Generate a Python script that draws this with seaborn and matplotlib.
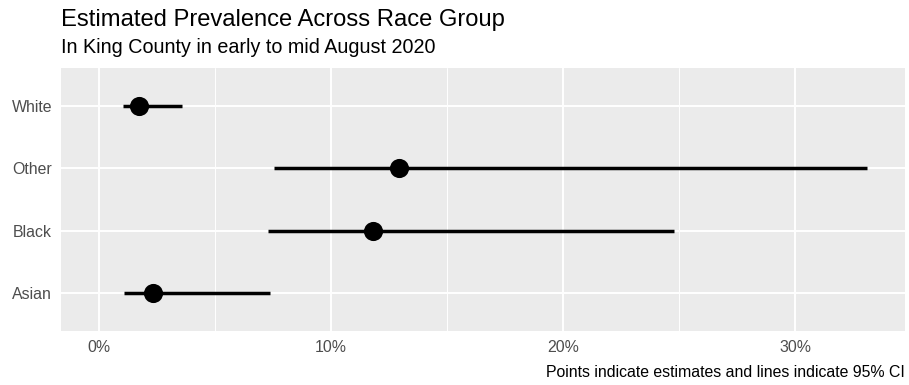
import matplotlib
matplotlib.use("Agg")
import matplotlib.pyplot as plt
import seaborn as sns
import pandas as pd
from matplotlib.ticker import PercentFormatter, MultipleLocator

# Data (fractions)
groups = ["Asian", "Black", "Other", "White"]
estimate = [0.0235, 0.118, 0.1295, 0.0175]
ci_low = [0.0108, 0.0728, 0.0755, 0.0103]
ci_high = [0.0739, 0.2476, 0.3309, 0.0359]

title = "Estimated Prevalence Across Race Group"
subtitle = "In King County in early to mid August 2020"
caption = "Points indicate estimates and lines indicate 95% CI"

df = pd.DataFrame({"group": groups, "estimate": estimate, "lo": ci_low, "hi": ci_high})

sns.set_theme(style="darkgrid")
plt.rcParams["font.family"] = ["Liberation Sans", "DejaVu Sans"]

W, H = 909, 385
fig = plt.figure(figsize=(W / 100, H / 100), dpi=100)
ax = fig.add_axes([61 / W, 1 - 331 / H, (905 - 61) / W, (331 - 68) / H])

ax.set_facecolor("#EBEBEB")
ax.hlines(y=df["group"], xmin=df["lo"], xmax=df["hi"], color="black", linewidth=2.5, zorder=3)
sns.scatterplot(data=df, x="estimate", y="group", ax=ax, color="black", s=190,
                edgecolor="black", linewidth=0, zorder=4, legend=False)

ax.set_xlim(-0.0162, 0.3473)
ax.set_ylim(-0.6, 3.6)
ax.xaxis.set_major_locator(MultipleLocator(0.10))
ax.xaxis.set_minor_locator(MultipleLocator(0.05))
ax.xaxis.set_major_formatter(PercentFormatter(xmax=1, decimals=0))

ax.grid(which="major", color="white", linewidth=1.4)
ax.grid(which="minor", axis="x", color="white", linewidth=0.7)
ax.set_axisbelow(True)
for s in ax.spines.values():
    s.set_visible(False)

ax.tick_params(axis="both", which="major", length=3.6, width=0.9, color="#333333",
               labelcolor="#4D4D4D", labelsize=11.4, pad=2.9)
ax.tick_params(axis="x", which="minor", length=0)
ax.set_xlabel("")
ax.set_ylabel("")

fig.text(61 / W, 1 - 26 / H, title, fontsize=17.1, color="black", va="baseline", ha="left")
fig.text(61 / W, 1 - 53 / H, subtitle, fontsize=14.2, color="black", va="baseline", ha="left")
fig.text(905 / W, 1 - 377 / H, caption, fontsize=11.4, color="black", va="baseline", ha="right")

fig.savefig("out.png", dpi=100)
